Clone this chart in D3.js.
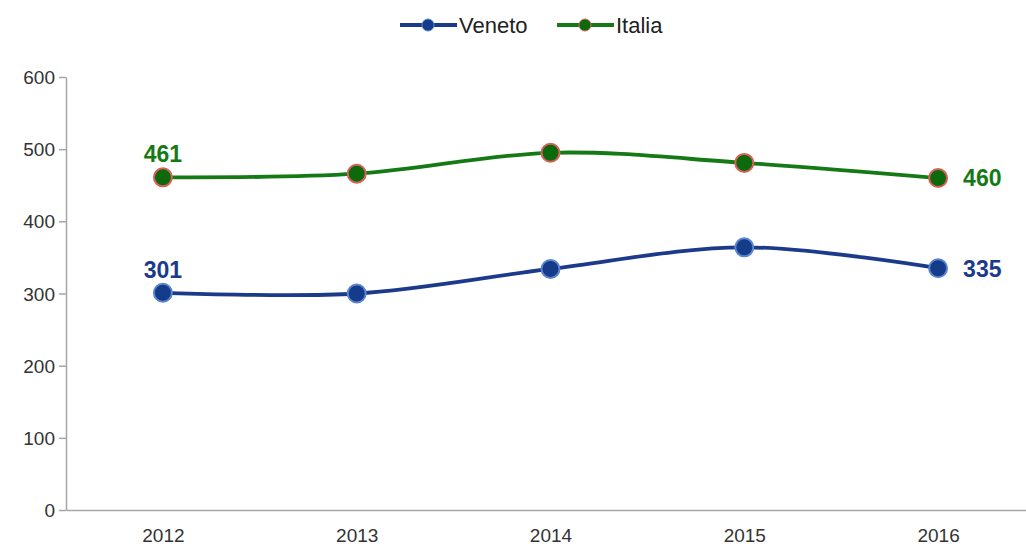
<!DOCTYPE html>
<html lang="it">
<head>
<meta charset="UTF-8">
<title>Veneto / Italia</title>
<script src="https://d3js.org/d3.v7.min.js"></script>
<style>
  body { margin: 0; background: #fff; }
  svg { font-family: "Liberation Sans", Arial, sans-serif; }
  .axis path, .axis line { stroke: #a6a6a6; stroke-width: 1.5; }
  .axis text { fill: #333; font-size: 19px; }
</style>
</head>
<body>
<svg id="chart" width="1026" height="546"></svg>
<script>
// data
const years = ["2012", "2013", "2014", "2015", "2016"];
const veneto = [301, 300, 334, 364, 335];
const italia = [461, 466, 495, 481, 460];
const yTicks = [0, 100, 200, 300, 400, 500, 600];

const series = [
  { name: "Veneto", values: veneto, line: "#1b3a8c", fill: "#143c8a", ring: "#5b86cf" },
  { name: "Italia", values: italia, line: "#157a15", fill: "#0c6a0c", ring: "#d9605a" }
];

const svg = d3.select("#chart");
const plotLeft = 66, plotRight = 1035, plotTop = 77, plotBottom = 510;

const x = d3.scalePoint().domain(years).range([plotLeft, plotRight]).padding(0.5);
const y = d3.scaleLinear().domain([0, 600]).range([plotBottom, plotTop]);

// y axis
svg.append("g")
  .attr("class", "axis")
  .attr("transform", `translate(${plotLeft},0)`)
  .call(d3.axisLeft(y).tickValues(yTicks).tickSize(7).tickSizeOuter(0).tickPadding(4))
  .selectAll("text").attr("dy", "0.35em");

// x axis
svg.append("g")
  .attr("class", "axis")
  .attr("transform", `translate(0,${plotBottom})`)
  .call(d3.axisBottom(x).tickSize(0).tickSizeOuter(0).tickPadding(19));

const line = d3.line()
  .x((d, i) => x(years[i]))
  .y(d => y(d))
  .curve(d3.curveCardinal.tension(0));

series.forEach(s => {
  svg.append("path")
    .datum(s.values)
    .attr("d", line)
    .attr("fill", "none")
    .attr("stroke", s.line)
    .attr("stroke-width", 3.8);

  svg.append("g").selectAll("circle")
    .data(s.values)
    .join("circle")
    .attr("cx", (d, i) => x(years[i]))
    .attr("cy", d => y(d))
    .attr("r", 9)
    .attr("fill", s.fill)
    .attr("stroke", s.ring)
    .attr("stroke-width", 2);

  // first and last value labels
  const first = s.values[0], last = s.values[s.values.length - 1];
  svg.append("text")
    .attr("x", x(years[0]))
    .attr("y", y(first) - 15)
    .attr("text-anchor", "middle")
    .attr("font-size", 23)
    .attr("font-weight", "bold")
    .attr("fill", s.line)
    .text(first);
  svg.append("text")
    .attr("x", x(years[years.length - 1]) + 25)
    .attr("y", y(last))
    .attr("dy", "0.36em")
    .attr("font-size", 23)
    .attr("font-weight", "bold")
    .attr("fill", s.line)
    .text(last);
});

// legend
const legendX = [400, 557];
series.forEach((s, i) => {
  const g = svg.append("g").attr("transform", `translate(${legendX[i]},25)`);
  g.append("line").attr("x1", 0).attr("x2", 57)
    .attr("stroke", s.line).attr("stroke-width", 3.8);
  g.append("circle").attr("cx", 28).attr("r", 6)
    .attr("fill", s.fill).attr("stroke", s.ring).attr("stroke-width", 1);
  g.append("text").attr("x", 59).attr("dy", "0.35em")
    .attr("font-size", 22).attr("fill", "#222").text(s.name);
});
</script>
</body>
</html>
